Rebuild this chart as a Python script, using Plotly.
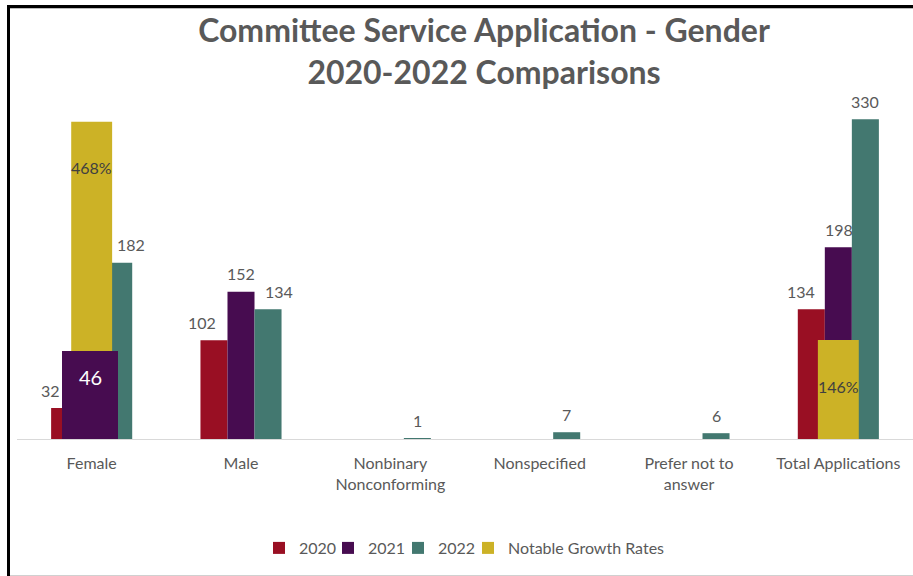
import plotly.graph_objects as go

# ---- data ----
categories = ["Female", "Male", "Nonbinary<br>Nonconforming", "Nonspecified",
              "Prefer not to<br>answer", "Total Applications"]
v2020 = [32, 102, 0, 0, 0, 134]
v2021 = [46, 152, 0, 0, 0, 198]
v2022 = [182, 134, 1, 7, 6, 330]
growth = [468, None, None, None, None, 146]   # percent
series_names = ["2020", "2021", "2022", "Notable Growth Rates"]

# ---- style ----
W, H = 913, 576
ML, MR, MT, MB = 17, 0, 100, 137
COLORS = {"2020": "#990F23", "2021": "#470C50", "2022": "#437870", "growth": "#CCB226"}
GRAY = "#595959"
FONT = "Lato"
BAR_W = 0.181
GROW_W = 0.274
# manual label nudges (px) as in the original chart
nudge = {
    "2020": [-14, -12, 0, 0, 0, -10],
    "2021": [0, 0, 0, 0, 0, 1],
    "2022": [12, 11, 0, 0, 0, 0],
}
# legend swatch left edges (px)
legend_pos = [273, 342, 412, 482]

x = list(range(len(categories)))
fig = go.Figure()
series = [("2020", v2020, -1.5 * BAR_W), ("2021", v2021, -0.5 * BAR_W), ("2022", v2022, 0.5 * BAR_W)]
legend_ids = ["legend", "legend2", "legend3", "legend4"]
for k, (name, vals, off) in enumerate(series):
    fig.add_trace(go.Bar(
        x=x, y=vals, name=name, marker_color=COLORS[name], marker_line_width=0,
        width=[BAR_W] * len(x), offset=[off] * len(x), yaxis="y", legend=legend_ids[k]))

fig.add_trace(go.Bar(
    x=x, y=growth, name=series_names[3], marker_color=COLORS["growth"], marker_line_width=0,
    width=[GROW_W] * len(x), offset=[-GROW_W / 2] * len(x), yaxis="y2", legend=legend_ids[3]))

annotations = []
for name, vals, off in series:
    for i, v in enumerate(vals):
        if not v:
            continue
        xc = i + off + BAR_W / 2
        if name == "2021" and i == 0:
            # callout box label used in the original for Female 2021
            annotations.append(dict(x=xc, y=0, xref="x", yref="y", text=" ", showarrow=False,
                                    yanchor="bottom", width=56, height=88, bgcolor=COLORS["2021"],
                                    borderpad=0, borderwidth=0, xshift=-1.5, font=dict(size=4)))
            annotations.append(dict(x=xc, y=0, xref="x", yref="y", text=str(v), showarrow=False,
                                    yanchor="middle", yshift=62, xshift=-1.5,
                                    font=dict(family=FONT, size=20, color="white")))
            continue
        annotations.append(dict(x=xc, y=v, xref="x", yref="y", text=str(v), showarrow=False,
                                yanchor="middle", yshift=18, xshift=nudge[name][i],
                                font=dict(family=FONT, size=16, color=GRAY)))
for i, g in enumerate(growth):
    if g is None:
        continue
    annotations.append(dict(x=i, y=g, xref="x", yref="y2", text=f"{g}%", showarrow=False,
                            yanchor="middle", yshift=-46,
                            font=dict(family=FONT, size=16, color="#404040")))

# frame lines of the original screenshot (paper coords from pixels)
pw, ph = W - ML - MR, H - MT - MB
def px(xp): return (xp - ML) / pw
def py(yp): return (H - MB - yp) / ph
shapes = [
    dict(type="line", xref="paper", yref="paper", x0=px(7), x1=px(913), y0=py(6.5), y1=py(6.5),
         line=dict(color="black", width=3)),
    dict(type="line", xref="paper", yref="paper", x0=px(7), x1=px(913), y0=py(8.5), y1=py(8.5),
         line=dict(color="#BBBBBB", width=1)),
    dict(type="line", xref="paper", yref="paper", x0=px(8.5), x1=px(8.5), y0=py(5), y1=py(576),
         line=dict(color="black", width=3)),
    dict(type="line", xref="paper", yref="paper", x0=px(10), x1=px(913), y0=py(575.5), y1=py(575.5),
         line=dict(color="#D0D0D0", width=1)),
]

legend_font = dict(family=FONT, size=16, color=GRAY)
legends = {}
for lid, sx in zip(legend_ids, legend_pos):
    legends[lid] = dict(orientation="h", x=px(sx - 14), xanchor="left", y=py(548), yanchor="middle",
                        font=legend_font, bgcolor="rgba(0,0,0,0)")

fig.update_layout(
    width=W, height=H, autosize=False,
    margin=dict(l=ML, r=MR, t=MT, b=MB, pad=0),
    paper_bgcolor="white", plot_bgcolor="white",
    barmode="overlay",
    title=dict(text="Committee Service Application - Gender<br>2020-2022 Comparisons",
               x=484 / W, xanchor="center", xref="container",
               y=1 - 42 / H, yanchor="middle",
               font=dict(family=FONT, size=32, color=GRAY, weight="bold")),
    xaxis=dict(tickmode="array", tickvals=x, ticktext=categories, range=[-0.5, len(x) - 0.5],
               showline=True, linecolor="#D9D9D9", linewidth=1, showgrid=False, zeroline=False,
               ticks="", ticklabelstandoff=10, tickfont=dict(family=FONT, size=16, color=GRAY)),
    yaxis=dict(range=[0, 350], visible=False, showgrid=False),
    yaxis2=dict(range=[0, 500], visible=False, overlaying="y", showgrid=False),
    annotations=annotations, shapes=shapes, showlegend=True,
    **legends,
)

fig.write_html("out.html")
